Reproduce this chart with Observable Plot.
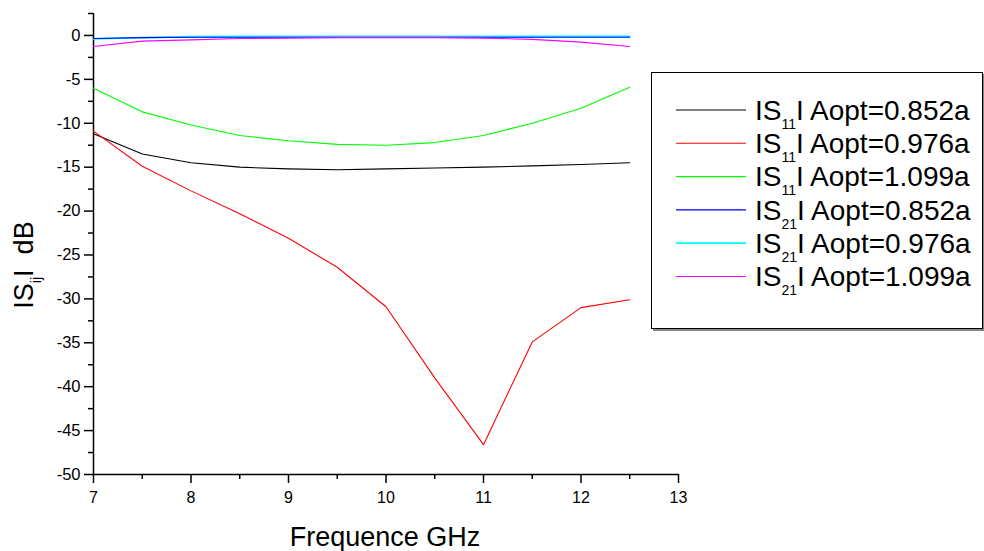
<!DOCTYPE html>
<html>
<head>
<meta charset="utf-8">
<script src="https://cdn.jsdelivr.net/npm/d3@7"></script>
<script src="https://cdn.jsdelivr.net/npm/@observablehq/plot@0.6"></script>
<style>
  html, body { margin: 0; padding: 0; background: #fff; }
  #chart svg { display: block; }
</style>
</head>
<body>
<div id="chart"></div>
<script>
// ---- data ----
const freqs = [7, 7.5, 8, 8.5, 9, 9.5, 10, 10.5, 11, 11.5, 12, 12.5];
const s11_0852 = [-11.2, -13.5, -14.5, -15.0, -15.2, -15.3, -15.2, -15.1, -15.0, -14.85, -14.7, -14.5];
const s11_0976 = [-10.9, -14.9, -17.7, -20.3, -23.1, -26.4, -30.9, -39.0, -46.6, -34.9, -31.0, -30.1];
const s11_1099 = [-6.0, -8.7, -10.2, -11.4, -12.0, -12.4, -12.5, -12.2, -11.4, -10.0, -8.3, -5.9];
const s21_0852 = [-0.35, -0.25, -0.2, -0.2, -0.2, -0.2, -0.2, -0.2, -0.2, -0.2, -0.2, -0.2];
const s21_0976 = [-0.4, -0.25, -0.15, -0.1, -0.1, -0.1, -0.1, -0.1, -0.1, -0.1, -0.1, -0.1];
const s21_1099 = [-1.25, -0.65, -0.5, -0.35, -0.3, -0.25, -0.25, -0.25, -0.3, -0.45, -0.76, -1.25];

const seriesNames = ["S11 0.852", "S11 0.976", "S11 1.099", "S21 0.852", "S21 0.976", "S21 1.099"];
const seriesValues = [s11_0852, s11_0976, s11_1099, s21_0852, s21_0976, s21_1099];
const seriesColors = ["#000000", "#ff0000", "#00ff00", "#0000ff", "#00ffff", "#ff00ff"];
const legendSub = ["11", "11", "11", "21", "21", "21"];
const legendRest = ["I Aopt=0.852a", "I Aopt=0.976a", "I Aopt=1.099a", "I Aopt=0.852a", "I Aopt=0.976a", "I Aopt=1.099a"];
const drawOrder = [0, 1, 2, 4, 3, 5];

const xMajor = [7, 8, 9, 10, 11, 12, 13];
const xMinor = [7.5, 8.5, 9.5, 10.5, 11.5, 12.5];
const yMajor = [-50, -45, -40, -35, -30, -25, -20, -15, -10, -5, 0];
const yMinor = [-47.5, -42.5, -37.5, -32.5, -27.5, -22.5, -17.5, -12.5, -7.5, -2.5, 2.5];

const font = "'Liberation Sans', Arial, Helvetica, sans-serif";

const lineMarks = drawOrder.map(i =>
  Plot.line(freqs.map((f, j) => ({f, v: seriesValues[i][j]})), {
    x: "f", y: "v", stroke: seriesColors[i], strokeWidth: i === 4 ? 1.8 : 1.1
  })
);

const chart = Plot.plot({
  width: 984,
  height: 551,
  marginLeft: 93,
  marginRight: 306,
  marginTop: 13,
  marginBottom: 77,
  style: {fontFamily: font, background: "#fff", color: "#000"},
  x: {domain: [7, 13], axis: null},
  y: {domain: [-50, 2.5], axis: null},
  marks: [
    Plot.axisX({ticks: xMajor, tickSize: 9, tickPadding: 8, fontSize: 16, tickFormat: d => String(d), label: null, strokeWidth: 1.5}),
    Plot.axisX({ticks: xMinor, tickSize: 5, tickFormat: () => "", label: null, strokeWidth: 1.5}),
    Plot.axisY({ticks: yMajor, tickSize: 9, tickPadding: 4, fontSize: 16.5, tickFormat: d => String(d), label: null, strokeWidth: 1.5}),
    Plot.axisY({ticks: yMinor, tickSize: 5, tickFormat: () => "", label: null, strokeWidth: 1.5}),
    Plot.ruleX([7], {y1: -50, y2: 2.5, strokeWidth: 1.5}),
    Plot.ruleY([-50], {x1: 7, x2: 13, strokeWidth: 1.5}),
    ...lineMarks
  ]
});

document.getElementById("chart").appendChild(chart);

// ---- axis titles and legend (text) ----
const svg = d3.select(chart);

svg.append("text")
  .attr("x", 385).attr("y", 546)
  .attr("text-anchor", "middle")
  .attr("font-size", 27)
  .attr("font-family", font)
  .attr("fill", "#000")
  .text("Frequence GHz");

const yl = svg.append("text")
  .attr("transform", "translate(33,265) rotate(-90)")
  .attr("text-anchor", "middle")
  .attr("font-size", 27)
  .attr("font-family", font)
  .attr("fill", "#000");
yl.append("tspan").text("IS");
yl.append("tspan").attr("font-size", 14).attr("dy", 8).text("ij");
yl.append("tspan").attr("dy", -8).text("I  dB");

// legend box
const lg = svg.append("g").attr("text-anchor", "start");
lg.append("rect")
  .attr("x", 653).attr("y", 74).attr("width", 331).attr("height", 257)
  .attr("fill", "#888");
lg.append("rect")
  .attr("x", 651.5).attr("y", 72.5).attr("width", 331).attr("height", 256)
  .attr("fill", "#fff").attr("stroke", "#000").attr("stroke-width", 1);

seriesNames.forEach((name, i) => {
  const yy = 110 + i * 33.3;
  lg.append("line")
    .attr("x1", 676).attr("x2", 746).attr("y1", yy).attr("y2", yy)
    .attr("stroke", seriesColors[i]).attr("stroke-width", i === 4 ? 1.8 : 1.1);
  const t = lg.append("text")
    .attr("x", 755).attr("y", yy + 9.8)
    .attr("text-anchor", "start")
    .attr("font-size", 28)
    .attr("font-family", font)
    .attr("fill", "#000");
  t.append("tspan").text("IS");
  t.append("tspan").attr("font-size", 14).attr("dy", 9).text(legendSub[i]);
  t.append("tspan").attr("dy", -9).text(legendRest[i]);
});
</script>
</body>
</html>
